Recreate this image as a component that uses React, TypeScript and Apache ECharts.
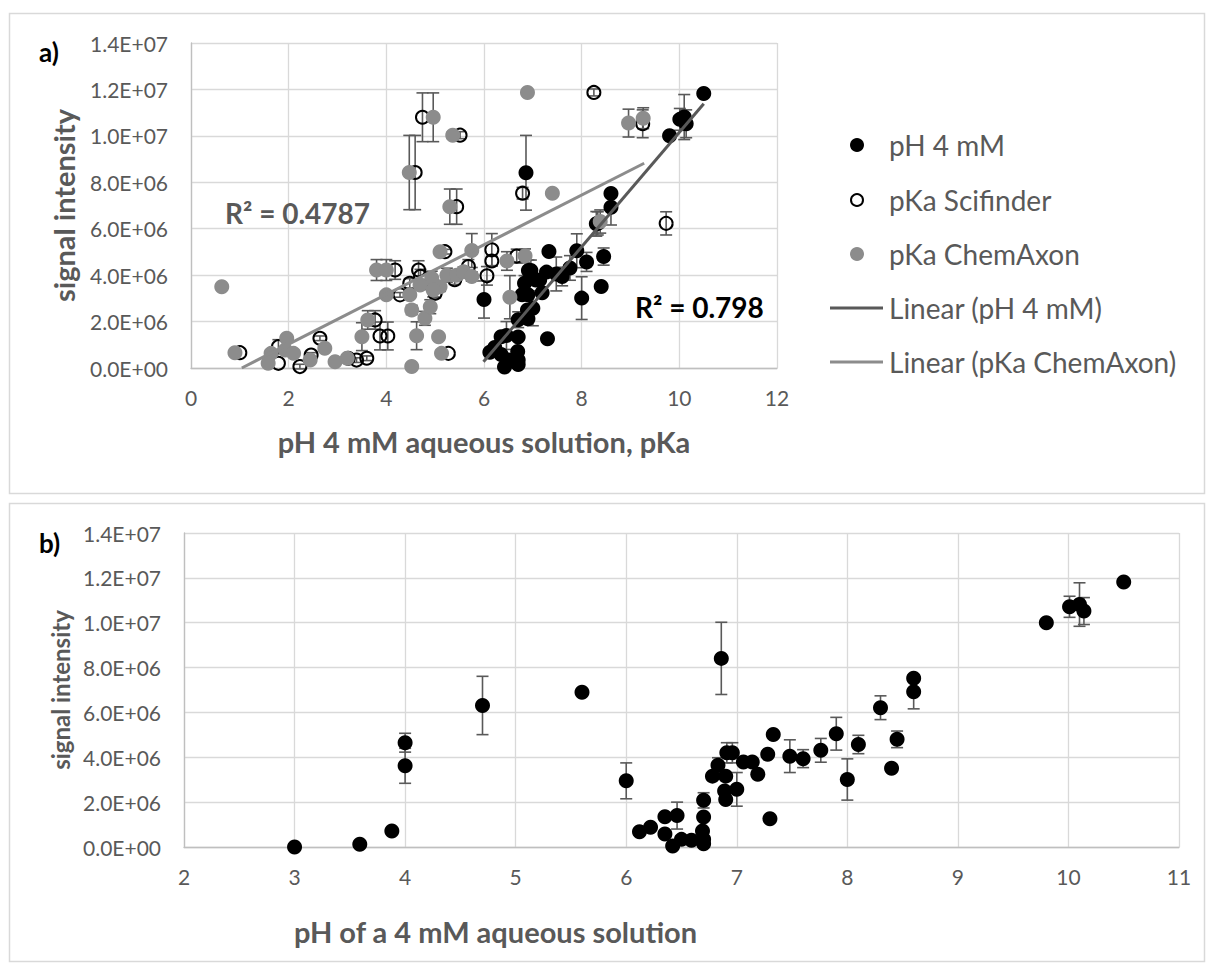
import React, { useEffect, useRef } from "react";
import * as echarts from "echarts";

// ---------- Panel b: all compounds, pH of a 4 mM aqueous solution ----------
const phValues = [
  3.0, 3.59, 3.88, 4.0, 4.0, 4.7, 5.6, 6.0, 6.12, 6.22, 6.35, 6.35, 6.42, 6.46, 6.5, 6.59,
  6.7, 6.7, 6.69, 6.7, 6.7, 6.78, 6.83, 6.91, 6.96, 6.9, 6.89, 6.9, 7.0, 7.06, 7.14, 7.19,
  7.28, 7.33, 7.3, 7.48, 7.6, 7.76, 7.9, 8.0, 8.1, 8.3, 8.4, 8.45, 8.6, 8.6, 9.8, 10.01,
  10.1, 10.14, 10.5, 6.86,
];
const intensityValues = [
  0.0e6, 0.12e6, 0.71e6, 4.65e6, 3.62e6, 6.31e6, 6.9e6, 2.95e6, 0.68e6, 0.88e6, 1.35e6, 0.58e6,
  0.04e6, 1.4e6, 0.34e6, 0.3e6, 2.08e6, 1.34e6, 0.71e6, 0.34e6, 0.15e6, 3.16e6, 3.65e6, 4.2e6,
  4.2e6, 3.16e6, 2.5e6, 2.12e6, 2.57e6, 3.79e6, 3.79e6, 3.24e6, 4.13e6, 5.02e6, 1.26e6, 4.05e6,
  3.94e6, 4.31e6, 5.05e6, 3.01e6, 4.57e6, 6.21e6, 3.51e6, 4.8e6, 7.52e6, 6.92e6, 10.0e6,
  10.71e6, 10.81e6, 10.52e6, 11.82e6, 8.41e6,
];
const errorValues = [
  0, 0, 0, 0.42e6, 0.78e6, 1.3e6, 0, 0.8e6, 0, 0, 0, 0, 0, 0.6e6, 0, 0, 0.34e6, 0, 0, 0, 0,
  0, 0.33e6, 0.45e6, 0.45e6, 0, 0, 0, 0.75e6, 0, 0, 0, 0, 0, 0, 0.73e6, 0.4e6, 0.53e6, 0.73e6,
  0.92e6, 0.41e6, 0.53e6, 0, 0.37e6, 0, 0.76e6, 0, 0.47e6, 0.97e6, 0.6e6, 0, 1.61e6,
];

// ---------- Panel a: pKa Scifinder ----------
const sciPka = [
  4.74, 5.51, 4.59, 5.44, 8.25, 9.25, 6.79, 8.33, 9.73, 6.16, 6.16, 6.67, 5.2, 6.06, 5.68,
  4.18, 4.66, 4.48, 4.28, 5.0, 3.77, 3.87, 4.03, 5.27, 1.0, 1.79, 1.79, 2.23, 2.46, 2.64,
  3.22, 3.39, 3.6, 4.7, 5.4,
];
const sciIntensity = [
  10.8e6, 10.03e6, 8.42e6, 6.95e6, 11.87e6, 10.52e6, 7.53e6, 6.23e6, 6.23e6, 5.09e6, 4.61e6,
  4.82e6, 5.01e6, 3.97e6, 4.37e6, 4.22e6, 4.22e6, 3.65e6, 3.15e6, 3.22e6, 2.07e6, 1.38e6,
  1.38e6, 0.63e6, 0.66e6, 0.2e6, 0.92e6, 0.06e6, 0.56e6, 1.28e6, 0.42e6, 0.34e6, 0.42e6,
  3.95e6, 3.8e6,
];
const sciError = [
  1.05e6, 0.15e6, 1.6e6, 0.76e6, 0.15e6, 0.6e6, 0.25e6, 0.5e6, 0.5e6, 0.7e6, 0.2e6, 0.3e6,
  0.1e6, 0.4e6, 0.3e6, 0.4e6, 0.4e6, 0.2e6, 0.1e6, 0.2e6, 0.4e6, 0.6e6, 0.6e6, 0, 0, 0,
  0.3e6, 0.1e6, 0.1e6, 0.1e6, 0.1e6, 0.1e6, 0.1e6, 0.3e6, 0.2e6,
];

// ---------- Panel a: pKa ChemAxon ----------
const chemPka = [
  4.96, 5.36, 4.47, 5.3, 6.89, 7.4, 8.96, 9.26, 8.38, 5.75, 5.1, 6.47, 6.84, 6.53, 0.63, 0.9,
  1.64, 1.58, 1.96, 1.93, 2.1, 2.44, 2.74, 2.95, 3.2, 3.5, 3.62, 4.52, 3.8, 4.0, 4.0, 4.48,
  4.52, 4.62, 4.79, 4.9, 4.93, 5.07, 5.13, 5.1, 5.24, 5.44, 5.58, 5.75, 4.69, 4.96,
];
const chemIntensity = [
  10.8e6, 10.03e6, 8.42e6, 6.95e6, 11.87e6, 7.53e6, 10.55e6, 10.76e6, 6.31e6, 5.06e6, 5.01e6,
  4.61e6, 4.83e6, 3.05e6, 3.5e6, 0.66e6, 0.63e6, 0.2e6, 1.28e6, 0.78e6, 0.63e6, 0.34e6,
  0.85e6, 0.27e6, 0.42e6, 1.35e6, 2.07e6, 0.06e6, 4.22e6, 4.22e6, 3.15e6, 3.15e6, 2.5e6,
  1.39e6, 2.14e6, 2.64e6, 3.87e6, 1.35e6, 0.63e6, 3.5e6, 4.0e6, 4.0e6, 4.15e6, 3.94e6,
  3.58e6, 3.36e6,
];
const chemError = [
  1.05e6, 0.15e6, 1.6e6, 0.76e6, 0, 0, 0.6e6, 0.45e6, 0.5e6, 0.73e6, 0.1e6, 0.4e6, 0.3e6,
  0.93e6, 0, 0, 0, 0, 0, 0, 0, 0, 0.1e6, 0, 0.1e6, 0.6e6, 0.4e6, 0, 0.45e6, 0.45e6, 0, 0.1e6,
  0.2e6, 0.6e6, 0.3e6, 0.3e6, 0.3e6, 0, 0, 0.2e6, 0.3e6, 0.2e6, 0.2e6, 0.2e6, 0.2e6, 0.3e6,
];

// ---------- Trendlines (Excel linear fits, end points) ----------
const trendPhX = [5.99, 10.5];
const trendPhY = [0.27e6, 11.38e6];
const trendChemX = [1.04, 9.28];
const trendChemY = [0.0e6, 8.82e6];
const r2Ph = "R² = 0.798";
const r2Chem = "R² = 0.4787";

// ---------- Tick labels / axes ----------
const yMin = 0;
const yMax = 1.4e7;
const yStep = 2e6;
const xMinA = 0;
const xMaxA = 12;
const xStepA = 2;
const xMinB = 2;
const xMaxB = 11;
const xStepB = 1;

const legendNames = [
  "pH 4 mM",
  "pKa Scifinder",
  "pKa ChemAxon",
  "Linear (pH 4 mM)",
  "Linear (pKa ChemAxon)",
];

const FONT = "Lato, 'Open Sans', sans-serif";
const TXT = "#595959";
const GRID = "#d9d9d9";
const AXIS = "#bfbfbf";
const ERR = "#595959";
const GREY = "#8c8c8c";

function sciFmt(v: number): string {
  if (v === 0) return "0.0E+00";
  const e = Math.floor(Math.log10(v) + 1e-9);
  const m = v / Math.pow(10, e);
  return m.toFixed(1) + "E+" + String(e).padStart(2, "0");
}

function zip(xs: number[], ys: number[], es?: number[]) {
  return xs.map((x, i) => (es ? [x, ys[i], es[i]] : [x, ys[i]]));
}

function errSeries(xi: number, data: number[][]) {
  return {
    type: "custom",
    xAxisIndex: xi,
    yAxisIndex: xi,
    silent: true,
    data: data.filter((d) => d[2] > 0).map((d) => [d[0], d[1] - d[2], d[1] + d[2]]),
    encode: { x: 0, y: [1, 2] },
    renderItem: (params: any, api: any) => {
      const x = api.value(0);
      const lo = api.coord([x, api.value(1)]);
      const hi = api.coord([x, api.value(2)]);
      const w = 6;
      const style = { stroke: ERR, lineWidth: 1.6, fill: "none" };
      return {
        type: "group",
        children: [
          { type: "line", shape: { x1: lo[0], y1: lo[1], x2: hi[0], y2: hi[1] }, style },
          { type: "line", shape: { x1: lo[0] - w, y1: lo[1], x2: lo[0] + w, y2: lo[1] }, style },
          { type: "line", shape: { x1: hi[0] - w, y1: hi[1], x2: hi[0] + w, y2: hi[1] }, style },
        ],
      };
    },
  };
}

function valueAxis(min: number, max: number, interval: number, isY: boolean, gi: number, extra: any = {}) {
  return {
    type: "value",
    gridIndex: gi,
    min,
    max,
    interval,
    axisLine: { show: true, onZero: false, lineStyle: { color: AXIS, width: 1.3 } },
    axisTick: { show: false },
    splitLine: { show: true, lineStyle: { color: GRID, width: 1.3 } },
    axisLabel: {
      color: TXT,
      fontFamily: FONT,
      fontSize: 21,
      margin: isY ? 23 : 19,
      formatter: isY ? (v: number) => sciFmt(v) : (v: number) => String(v),
    },
    ...extra,
  };
}

export default function App() {
  const ref = useRef<HTMLDivElement>(null);
  useEffect(() => {
    document.body.style.margin = "0";
    if (!ref.current) return;
    const chart = echarts.init(ref.current, undefined, { renderer: "svg" });

    const allB = zip(phValues, intensityValues, errorValues);
    const phA = allB.filter((d) => d[0] >= 5.9);
    const sci = zip(sciPka, sciIntensity, sciError);
    const chem = zip(chemPka, chemIntensity, chemError);

    const legendY = [145, 200, 254, 308, 362];
    const legendGraphics: any[] = [
      { type: "circle", shape: { cx: 857, cy: legendY[0], r: 7 }, style: { fill: "#000" } },
      { type: "circle", shape: { cx: 857, cy: legendY[1], r: 6 }, style: { fill: "#fff", stroke: "#000", lineWidth: 2 } },
      { type: "circle", shape: { cx: 857, cy: legendY[2], r: 7 }, style: { fill: GREY } },
      { type: "line", shape: { x1: 830, y1: legendY[3], x2: 883, y2: legendY[3] }, style: { stroke: "#595959", lineWidth: 3 } },
      { type: "line", shape: { x1: 830, y1: legendY[4], x2: 883, y2: legendY[4] }, style: { stroke: GREY, lineWidth: 3 } },
      ...legendNames.map((n, i) => ({
        type: "text",
        x: 889,
        y: legendY[i],
        style: { text: n, fill: TXT, fontFamily: FONT, fontSize: 28, verticalAlign: "middle", align: "left" },
      })),
    ];

    const option: any = {
      animation: false,
      backgroundColor: "#fff",
      grid: [
        { left: 191, top: 43, width: 586, height: 325, outerBoundsMode: "none" },
        { left: 184, top: 533, width: 995, height: 314, outerBoundsMode: "none" },
      ],
      xAxis: [
        valueAxis(xMinA, xMaxA, xStepA, false, 0, {
          name: "pH 4 mM aqueous solution, pKa",
          nameLocation: "middle",
          nameGap: 59,
          nameTextStyle: { color: TXT, fontFamily: FONT, fontSize: 29, fontWeight: "bold" },
        }),
        valueAxis(xMinB, xMaxB, xStepB, false, 1, {
          name: "pH of a 4 mM aqueous solution",
          nameLocation: "middle",
          nameGap: 70,
          nameTextStyle: {
            color: TXT,
            fontFamily: FONT,
            fontSize: 29,
            fontWeight: "bold",
            padding: [0, 372, 0, 0],
          },
        }),
      ],
      yAxis: [
        valueAxis(yMin, yMax, yStep, true, 0, {
          name: "signal intensity",
          nameLocation: "middle",
          nameGap: 113,
          nameTextStyle: { color: TXT, fontFamily: FONT, fontSize: 29, fontWeight: "bold" },
        }),
        valueAxis(yMin, yMax, yStep, true, 1, {
          name: "signal intensity",
          nameLocation: "middle",
          nameGap: 110,
          nameTextStyle: { color: TXT, fontFamily: FONT, fontSize: 24, fontWeight: "bold" },
        }),
      ],
      graphic: [
        { type: "rect", shape: { x: 9.5, y: 13.5, width: 1195, height: 480 }, style: { fill: "none", stroke: GRID, lineWidth: 1.5 }, z: -10 },
        { type: "rect", shape: { x: 9.5, y: 503.5, width: 1195, height: 458 }, style: { fill: "none", stroke: GRID, lineWidth: 1.5 }, z: -10 },
        { type: "text", x: 39, y: 52, style: { text: "a)", fill: "#000", fontFamily: FONT, fontSize: 26, fontWeight: "bold", verticalAlign: "middle" } },
        { type: "text", x: 39, y: 543, style: { text: "b)", fill: "#000", fontFamily: FONT, fontSize: 26, fontWeight: "bold", verticalAlign: "middle" } },
        { type: "text", x: 225, y: 213, z: 100, style: { text: r2Chem, fill: TXT, fontFamily: FONT, fontSize: 28, fontWeight: "bold", verticalAlign: "middle" } },
        { type: "text", x: 635, y: 307, z: 100, style: { text: r2Ph, fill: "#000", fontFamily: FONT, fontSize: 28, fontWeight: "bold", verticalAlign: "middle" } },
        ...legendGraphics,
      ],
      series: [
        // panel a
        errSeries(0, phA),
        {
          name: "pH 4 mM",
          type: "scatter",
          xAxisIndex: 0,
          yAxisIndex: 0,
          data: phA.map((d) => [d[0], d[1]]),
          symbolSize: 15,
          itemStyle: { color: "#000", opacity: 1 },
        },
        errSeries(0, sci),
        {
          name: "pKa Scifinder",
          type: "scatter",
          xAxisIndex: 0,
          yAxisIndex: 0,
          data: sci.map((d) => [d[0], d[1]]),
          symbolSize: 13,
          itemStyle: { color: "rgba(255,255,255,0)", borderColor: "#000", borderWidth: 2, opacity: 1 },
        },
        errSeries(0, chem),
        {
          name: "pKa ChemAxon",
          type: "scatter",
          xAxisIndex: 0,
          yAxisIndex: 0,
          data: chem.map((d) => [d[0], d[1]]),
          symbolSize: 15,
          itemStyle: { color: GREY, opacity: 1 },
        },
        {
          name: "Linear (pH 4 mM)",
          type: "line",
          xAxisIndex: 0,
          yAxisIndex: 0,
          data: zip(trendPhX, trendPhY),
          symbol: "none",
          lineStyle: { color: "#595959", width: 3 },
          z: 5,
        },
        {
          name: "Linear (pKa ChemAxon)",
          type: "line",
          xAxisIndex: 0,
          yAxisIndex: 0,
          data: zip(trendChemX, trendChemY),
          symbol: "none",
          lineStyle: { color: GREY, width: 3 },
          z: 5,
        },
        // panel b
        errSeries(1, allB),
        {
          name: "pH 4 mM (b)",
          type: "scatter",
          xAxisIndex: 1,
          yAxisIndex: 1,
          data: allB.map((d) => [d[0], d[1]]),
          symbolSize: 15,
          itemStyle: { color: "#000", opacity: 1 },
        },
      ],
    };
    chart.setOption(option);
    return () => chart.dispose();
  }, []);
  return <div ref={ref} style={{ width: 1208, height: 965 }} />;
}
